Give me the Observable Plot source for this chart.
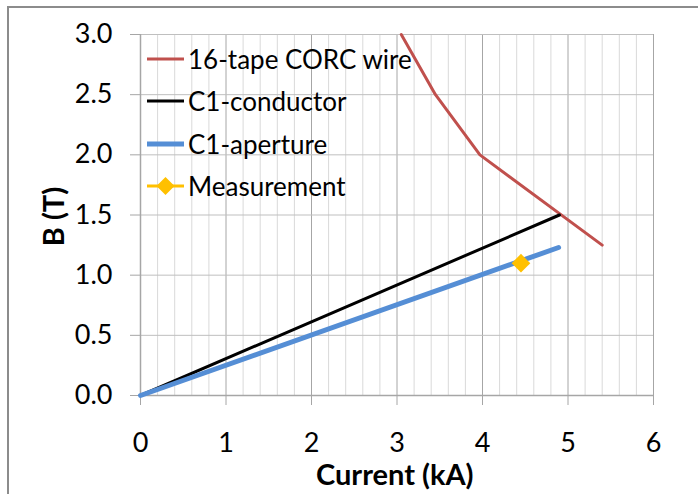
<!DOCTYPE html>
<html><head><meta charset="utf-8">
<script src="https://cdn.jsdelivr.net/npm/d3@7"></script>
<script src="https://cdn.jsdelivr.net/npm/@observablehq/plot@0.6"></script>
<style>
body{margin:0;background:#fff;}
#wrap{position:relative;width:698px;height:494px;overflow:hidden;font-family:Lato,sans-serif;background:#fff;}
#frame{position:absolute;left:7px;top:6px;width:720px;height:520px;border-top:2px solid #8c8c8c;border-left:2px solid #8c8c8c;}
#chart{position:absolute;left:0;top:0;}
.title{position:absolute;font-weight:bold;font-size:29px;color:#000;white-space:nowrap;line-height:1;}
.leg{position:absolute;left:147px;height:30px;display:flex;align-items:center;font-size:26px;white-space:nowrap;color:#000;}
.leg svg{margin-right:4px;}
</style></head>
<body>
<div id="wrap">
  <div id="frame"></div>
  <div id="chart"></div>
  <div id="legend"></div>
  <div class="title" id="xt">Current (kA)</div>
  <div class="title" id="yt">B (T)</div>
</div>
<script>
// Data
const corcCurrent = [3.05, 3.45, 3.97, 5.40];
const corcB = [3.0, 2.5, 2.0, 1.25];
const conductorCurrent = [0, 4.9];
const conductorB = [0, 1.5];
const apertureCurrent = [0, 4.89];
const apertureB = [0, 1.23];
const measCurrent = [4.45];
const measB = [1.1];
const xTicks = [0, 1, 2, 3, 4, 5, 6];
const yTicks = [0, 0.5, 1.0, 1.5, 2.0, 2.5, 3.0];
const seriesNames = ["16-tape CORC wire", "C1-conductor", "C1-aperture", "Measurement"];
const seriesColors = ["#C0504D", "#000000", "#558ED5", "#FFC000"];

const toRows = (xs, ys) => xs.map((x, i) => ({x, y: ys[i]}));
const corc = toRows(corcCurrent, corcB);
const cond = toRows(conductorCurrent, conductorB);
const aper = toRows(apertureCurrent, apertureB);
const meas = toRows(measCurrent, measB);

const minorX = d3.range(1, 31).map(i => i / 5).filter(v => Math.abs(v - Math.round(v)) > 1e-9);
const majorX = xTicks.filter(v => v > 0);
const gridY = yTicks.filter(v => v > 0);

const plot = Plot.plot({
  width: 698,
  height: 494,
  marginLeft: 140,
  marginRight: 45,
  marginTop: 34,
  marginBottom: 99,
  style: {fontFamily: "Lato, sans-serif", fontSize: "27px", color: "#000", background: "transparent"},
  x: {domain: [0, 6]},
  y: {domain: [0, 3]},
  marks: [
    Plot.ruleX(minorX, {stroke: "#d9d9d9", strokeWidth: 1}),
    Plot.ruleX(majorX, {stroke: "#a6a6a6", strokeWidth: 1}),
    Plot.ruleY(gridY, {stroke: "#bfbfbf", strokeWidth: 1}),
    Plot.ruleX([0], {stroke: "#a6a6a6", strokeWidth: 1.5}),
    Plot.ruleY([0], {stroke: "#a6a6a6", strokeWidth: 1.5}),
    Plot.axisX({ticks: xTicks, tickSize: 10, tickPadding: 27, stroke: "#a6a6a6", fill: "#000", fontSize: 27, label: null, tickFormat: d => String(d)}),
    Plot.axisY({ticks: yTicks, tickSize: 10, tickPadding: 18, stroke: "#a6a6a6", fill: "#000", fontSize: 27, label: null, tickFormat: d => d.toFixed(1)}),
    Plot.line(corc, {x: "x", y: "y", stroke: seriesColors[0], strokeWidth: 3}),
    Plot.line(cond, {x: "x", y: "y", stroke: seriesColors[1], strokeWidth: 3}),
    Plot.line(aper, {x: "x", y: "y", stroke: seriesColors[2], strokeWidth: 5, strokeLinecap: "round"}),
    Plot.dot(meas, {x: "x", y: "y", symbol: "diamond2", r: 8.4, fill: seriesColors[3], stroke: "none"})
  ]
});
document.getElementById("chart").appendChild(plot);

// Legend (inside plot area, top-left)
const legendY = [44, 86, 129, 171];
const legend = document.getElementById("legend");
seriesNames.forEach((name, i) => {
  const row = document.createElement("div");
  row.className = "leg";
  row.style.top = legendY[i] + "px";
  const w = 37, h = 30;
  let sw;
  if (i < 3) {
    const sWidth = i === 2 ? 5 : 3;
    sw = `<svg width="${w}" height="${h}"><line x1="0" x2="${w}" y1="15" y2="15" stroke="${seriesColors[i]}" stroke-width="${sWidth}" stroke-linecap="${i===2?'round':'butt'}"/></svg>`;
  } else {
    sw = `<svg width="${w}" height="${h}"><line x1="0" x2="${w}" y1="15" y2="15" stroke="${seriesColors[i]}" stroke-width="3"/><path d="M18.5,6 L27.5,15 L18.5,24 L9.5,15 Z" fill="${seriesColors[i]}"/></svg>`;
  }
  row.innerHTML = sw + `<span>${name}</span>`;
  legend.appendChild(row);
});

// Axis titles
const xt = document.getElementById("xt");
xt.style.left = (395 - xt.offsetWidth / 2) + "px";
xt.style.top = "459px";
const yt = document.getElementById("yt");
yt.style.left = (52 - yt.offsetWidth / 2) + "px";
yt.style.top = (216 - yt.offsetHeight / 2) + "px";
yt.style.transform = "rotate(-90deg)";
</script>
</body></html>
